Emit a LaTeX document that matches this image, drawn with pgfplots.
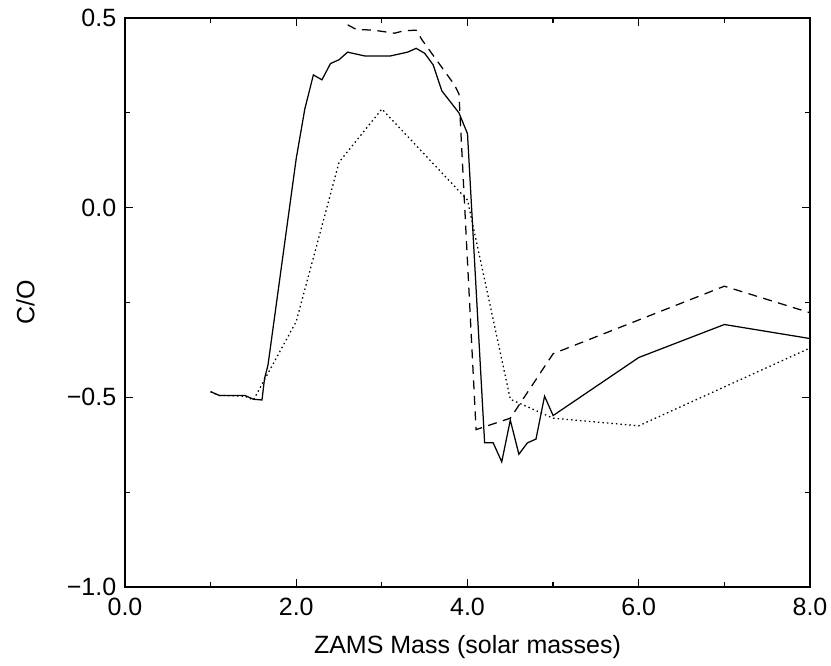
\documentclass[border=0pt]{standalone}
\usepackage{fontspec}
\setmainfont{Liberation Sans}
\usepackage{pgfplots}
\pgfplotsset{compat=1.18}
\begin{document}
\begin{tikzpicture}
\begin{axis}[
    scale only axis,
    width=274pt, height=227.6pt,
    xmin=0, xmax=8, ymin=-1, ymax=0.5,
    xtick={0,2,4,6,8}, xticklabels={0.0,2.0,4.0,6.0,8.0},
    minor xtick={1,3,5,7},
    ytick={-1,-0.5,0,0.5}, yticklabels={−1.0,−0.5,0.0,0.5},
    minor ytick={-0.75,-0.25,0.25},
    xtick pos=both, ytick pos=both,
    xticklabel pos=left, yticklabel pos=left,
    tick align=inside,
    major tick length=3.2pt, minor tick length=2pt,
    tick style={black, line width=0.5pt},
    axis line style={line width=0.6pt},
    xticklabel shift=1pt,
    xlabel={ZAMS Mass (solar masses)},
    xlabel shift=0.9pt,
    ylabel={C/O},
    ylabel shift=6pt,
  ]
  % solid
  \addplot[black, solid, line width=0.5pt, mark=none] coordinates {
      (1.0,-0.485) (1.1,-0.495) (1.4,-0.495) (1.5,-0.505) (1.6,-0.507)
      (1.63,-0.45) (1.67,-0.415) (2.0,0.13) (2.1,0.26) (2.2,0.35)
      (2.3,0.337) (2.4,0.38) (2.5,0.39) (2.6,0.41) (2.8,0.40) (3.1,0.40)
      (3.3,0.41) (3.4,0.42) (3.5,0.407) (3.6,0.376) (3.7,0.308) (3.9,0.25)
      (4.0,0.195) (4.2,-0.62) (4.3,-0.62) (4.4,-0.67) (4.5,-0.56)
      (4.6,-0.65) (4.7,-0.62) (4.8,-0.61) (4.9,-0.497) (5.0,-0.548)
      (6.0,-0.395) (7.0,-0.308) (8.0,-0.345)
    };
  % dashed
  \addplot[black, line width=0.5pt, mark=none, dash pattern=on 3.6pt off 2.6pt] coordinates {
      (2.6,0.482) (2.7,0.47) (2.9,0.468) (3.15,0.46) (3.25,0.466)
      (3.4,0.468) (3.47,0.442) (3.85,0.323) (3.9,0.30) (4.1,-0.585)
      (4.5,-0.555) (5.0,-0.385) (7.0,-0.207) (8.0,-0.277)
    };
  % dotted
  \addplot[black, line width=0.5pt, mark=none, dash pattern=on 0.6pt off 1.2pt] coordinates {
      (1.0,-0.485) (1.1,-0.495) (1.4,-0.497) (1.5,-0.507) (2.0,-0.30)
      (2.5,0.12) (3.0,0.26) (4.0,0.02) (4.5,-0.505) (5.0,-0.555)
      (6.0,-0.575) (8.0,-0.37)
    };
\end{axis}
\pgfresetboundingbox
\path[use as bounding box] (-50pt,-31.2pt) rectangle (282.4pt,234.8pt);
\end{tikzpicture}
\end{document}
